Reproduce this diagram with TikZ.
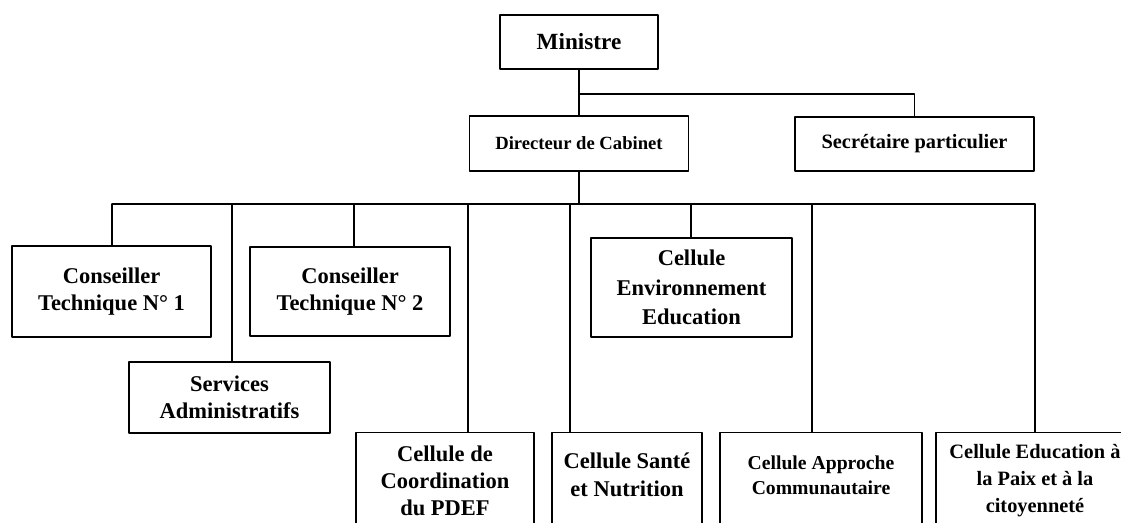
\documentclass[tikz,border=0pt]{standalone}
\usepackage{fontspec}
\setmainfont{Liberation Serif}
\tikzset{
  box/.style={draw, line width=.7pt, align=center, inner sep=0pt},
  sz/.style 2 args={minimum width=#1*0.2mm, minimum height=#2*0.2mm},
  bigtxt/.style={font=\bfseries\fontsize{12.8}{15.5}\selectfont},
  smalltxt/.style={font=\bfseries\fontsize{11.2}{14.5}\selectfont},
}
\begin{document}
\begin{tikzpicture}[x=0.2mm, y=-0.2mm, line width=.7pt, line join=round, line cap=round]
    \useasboundingbox (0,0) rectangle (1121,523);
    \clip (0,0) rectangle (1121,523);
    \def\ybus{204}\def\ytop{94}
    % top of the chart
    \node[box, sz={158}{54}, font=\bfseries\fontsize{13.2}{15}\selectfont] (min) at (579,42) {Ministre};
    \node[box, sz={219}{55}, font=\bfseries\fontsize{10.6}{12}\selectfont] (dir) at (579,143.5) {Directeur de Cabinet};
    \node[box, sz={239}{54}, font=\bfseries\fontsize{11.6}{13}\selectfont] (sec) at (914.5,144) {Secrétaire particulier};
    \coordinate (top) at (579,\ytop);
    \draw (min) -- (dir);
    \draw (top) -| (sec);
    % second level
    \node[box, sz={199}{91}, bigtxt] (ct1) at (111.5,291.5) {Conseiller\\Technique N° 1};
    \node[box, sz={200}{89}, bigtxt] (ct2) at (350,291.5) {Conseiller\\Technique N° 2};
    \node[box, sz={201}{71}, bigtxt] (serv) at (229.5,397.5) {Services\\Administratifs};
    \node[box, sz={201}{99}, font=\bfseries\fontsize{12.8}{16.8}\selectfont] (env) at (691.5,287.5) {Cellule\\Environnement\\Education};
    % cells at the bottom
    \node[box, sz={178}{96}, bigtxt, anchor=north] (pdef) at (445,432) {Cellule de\\Coordination\\du PDEF};
    \node[box, sz={150}{96}, bigtxt, anchor=north, text depth=2.4mm] (sante) at (627,432) {Cellule Santé\\et Nutrition};
    \node[box, sz={202}{96}, smalltxt, anchor=north, text depth=2.2mm] (appr) at (821,432) {Cellule Approche\\Communautaire};
    \node[box, sz={198}{96}, font=\bfseries\fontsize{11.6}{15.5}\selectfont, anchor=north] (educ) at (1035,432) {Cellule Education à\\la Paix et à la\\citoyenneté};
    % bus under the director
    \coordinate (busL) at (112,\ybus);
    \coordinate (busR) at (1035,\ybus);
    \draw (dir) -- (dir |- busL);
    \draw (busL) -- (busR);
    \foreach \x/\n in {112/ct1, 232/serv, 354/ct2, 468/pdef, 570/sante, 691/env, 812/appr, 1035/educ}{
      \coordinate (bus-\n) at (\x,\ybus);
      \draw (bus-\n) -- (bus-\n |- \n.north);
    }
\end{tikzpicture}
\end{document}
